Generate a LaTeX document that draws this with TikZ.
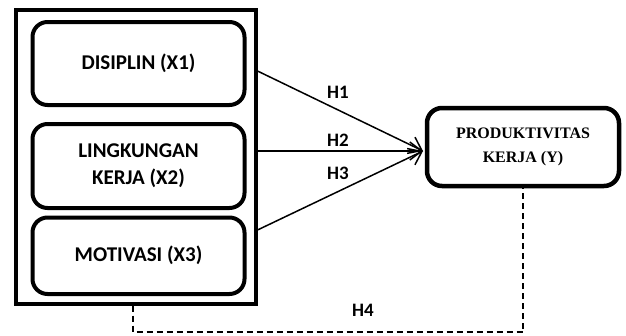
\documentclass[tikz,border=0pt]{standalone}
\usepackage{fontspec}
\setmainfont{Carlito}
\newfontfamily\serifbold{Liberation Serif}
\usetikzlibrary{arrows.meta}
\begin{document}
\begin{tikzpicture}[x=1pt,y=-1pt,
  varbox/.style={draw,line width=4pt,rounded corners=15pt,minimum width=212pt,
    align=center,font=\fontsize{21}{27}\selectfont\bfseries,inner sep=0pt},
  groupbox/.style={draw,line width=4pt,minimum width=239.5pt,minimum height=293.5pt,inner sep=0pt},
  ybox/.style={draw,line width=4.5pt,rounded corners=15pt,minimum width=192pt,minimum height=78pt,
    align=center,font=\fontsize{16}{24}\selectfont\serifbold\bfseries,inner sep=0pt},
  link/.style={line width=1.5pt,-{Straight Barb[length=12pt,width=18pt,line width=1.5pt]}},
  hyplabel/.style={font=\fontsize{19}{22}\selectfont\bfseries,inner sep=0pt},
  dashline/.style={line width=1.5pt,dash pattern=on 6pt off 4pt}]
\useasboundingbox (0,0) rectangle (626,335);

% grouping frame and independent variables
\node[groupbox] (outer) at (135.75,156.75) {};
\node[varbox,minimum height=83pt] (x1) at (138.5,63.5) {DISIPLIN (X1)};
\node[varbox,minimum height=84pt] (x2) at (138.5,166) {LINGKUNGAN\\KERJA (X2)};
\node[varbox,minimum height=76.5pt] (x3) at (138.5,255.75) {MOTIVASI (X3)};

% dependent variable
\node[ybox] (y) at (523,147) {PRODUKTIVITAS\\KERJA (Y)};

% partial effects
\coordinate (s1) at (257.5,71);
\coordinate (s2) at (257.5,151);
\coordinate (s3) at (257.5,230);
\coordinate (tip) at (423,151);
\draw[link] (s1) -- (tip);
\draw[link] (s2) -- (tip);
\draw[link] (s3) -- (tip);
\node[hyplabel] (h1) at (338,92) {H1};
\node[hyplabel] (h2) at (338,140) {H2};
\node[hyplabel] (h3) at (338,173) {H3};

% simultaneous effect
\coordinate (bot) at (0,332);
\draw[dashline] (outer.south -| 133,0) |- (y.south |- bot) -- (y.south);
\node[hyplabel] (h4) at (363,310) {H4};
\end{tikzpicture}
\end{document}
